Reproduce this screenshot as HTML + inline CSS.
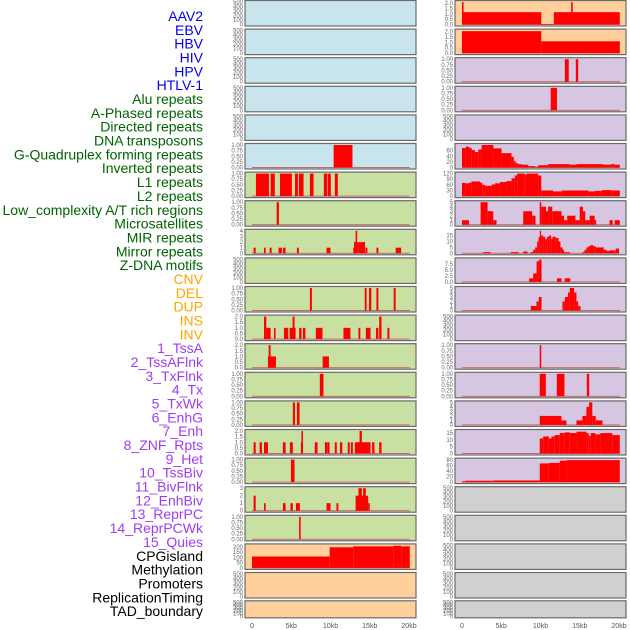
<!DOCTYPE html>
<html><head><meta charset="utf-8"><style>
html,body{margin:0;padding:0;background:#fff;}
svg{display:block;font-family:"Liberation Sans",sans-serif;}
</style></head><body>
<svg id="chart" width="630" height="630" viewBox="0 0 630 630" xmlns="http://www.w3.org/2000/svg">
<g id="labels"></g>
<g id="panels"></g>
<g id="xaxis"></g>
</svg>
<script>
const trackLabels = ["AAV2","EBV","HBV","HIV","HPV","HTLV-1","Alu repeats","A-Phased repeats","Directed repeats","DNA transposons","G-Quadruplex forming repeats","Inverted repeats","L1 repeats","L2 repeats","Low_complexity A/T rich regions","Microsatellites","MIR repeats","Mirror repeats","Z-DNA motifs","CNV","DEL","DUP","INS","INV","1_TssA","2_TssAFlnk","3_TxFlnk","4_Tx","5_TxWk","6_EnhG","7_Enh","8_ZNF_Rpts","9_Het","10_TssBiv","11_BivFlnk","12_EnhBiv","13_ReprPC","14_ReprPCWk","15_Quies","CPGisland","Methylation","Promoters","ReplicationTiming","TAD_boundary"];
const labelGroupSizes = [6,13,5,15,5];
const labelGroupColors = ["#0000ee","#006400","#ffa500","#a03cf0","#000000"];
const xTickValues = [0,5,10,15,20];
const xTickLabels = ["0","5kb","10kb","15kb","20kb"];
const leftColors = ["#c8e4ec","#c8e4ec","#c8e4ec","#c8e4ec","#c8e4ec","#c8e4ec","#c8e0a2","#c8e0a2","#c8e0a2","#c8e0a2","#c8e0a2","#c8e0a2","#c8e0a2","#c8e0a2","#c8e0a2","#c8e0a2","#c8e0a2","#c8e0a2","#c8e0a2","#ffd09c","#ffd09c","#ffd09c"];
const rightColors = ["#ffd09c","#ffd09c","#d6c6e2","#d6c6e2","#d6c6e2","#d6c6e2","#d6c6e2","#d6c6e2","#d6c6e2","#d6c6e2","#d6c6e2","#d6c6e2","#d6c6e2","#d6c6e2","#d6c6e2","#d6c6e2","#d6c6e2","#d0d0d0","#d0d0d0","#d0d0d0","#d0d0d0","#d0d0d0"];
// y-axis maxima per row
const leftMax = [500,500,500,500,500,1,1,1,4,500,1,2,2,1,1,2,1,3,1,215,500,500];
const rightMax = [2.1,2.1,1,1,500,80,120,5,19,9.3,5,500,1,1,5,16.5,82,500,500,500,500,500];
// tick sets: [values, decimals]
const leftTicks = ["T500","T500","T500","T500","T500","T1","T1","T1","T4","T500","T1","T2","T2","T1","T1","T2","T1","T3","T1","T200","T500","T500"];
const rightTicks = ["T2","T2","T1","T1","T500","T60","T120","T5","T15","T75","T5","T500","T1","T1","T5","T15","T80","T500","T500","T500","T500","T500"];
const tickSets = {
 T500:[[0,100,200,300,400,500],0], T1:[[0,0.25,0.5,0.75,1],2], T2:[[0,0.5,1,1.5,2],1],
 T3:[[0,1,2,3],0], T4:[[0,1,2,3,4],0], T5:[[0,1,2,3,4,5],0], T200:[[0,50,100,150,200],0],
 T60:[[0,20,40,60],0], T120:[[0,30,60,90,120],0], T15:[[0,5,10,15],0], T75:[[0,2.5,5,7.5],1], T80:[[0,20,40,60,80],0]
};
// segments: [startKb, endKb, value]
const leftSegs = [
 [],[],[],[],[],
 [[10.4,12.8,1]],
 [[0.5,2.16,1],[2.37,2.9,1],[3.56,5.08,1],[5.47,5.85,1],[5.97,6.57,1],[7.37,7.84,1],[9.15,9.58,1],[9.66,10.04,1],[10.55,10.93,1]],
 [[3.14,3.43,1]],
 [[0.2,0.47,1],[1.53,1.74,1],[2.25,2.5,1],[3.39,3.81,1],[3.94,4.28,1],[5.72,5.97,1],[9.49,10.0,1],[12.9,13.2,1],[13.0,13.6,2],[13.2,13.4,4],[13.6,14.4,2],[14.45,14.7,1],[15.85,16.1,1],[18.3,19.0,1]],
 [],
 [[7.37,7.63,1],[14.36,14.6,1],[14.9,15.2,1],[15.85,16.1,1],[18.05,18.3,1]],
 [[1.53,1.82,2],[1.82,2.37,1],[2.8,3.0,1],[4.07,4.62,1],[4.79,5.25,1],[5.17,5.42,2],[5.25,5.55,1],[6.0,6.3,1],[6.48,6.8,1],[8.14,8.98,1],[11.65,12.54,1],[13.56,13.8,1],[14.5,15.1,1],[15.8,16.1,1],[16.2,16.5,2],[17.25,17.5,1]],
 [[2.03,3.05,1],[2.12,2.37,2],[9.0,9.8,1]],
 [[8.64,9.1,1]],
 [[5.2,5.47,1],[5.72,6.06,1]],
 [[0.2,0.47,1],[0.97,1.27,1],[1.53,2.03,1],[3.94,4.28,1],[4.83,5.2,1],[6.23,6.5,1],[6.3,6.5,2],[8.0,8.35,1],[9.28,9.58,1],[9.6,9.87,1],[10.55,10.8,1],[11.2,11.5,1],[12.2,12.45,1],[12.6,12.85,1],[13.1,15.1,1],[13.7,14.0,2],[15.3,15.6,1],[16.2,16.5,1]],
 [[4.96,5.42,1]],
 [[0.2,0.47,2],[1.53,1.74,1],[3.94,4.28,1],[4.9,5.2,1],[5.6,6.1,1],[9.5,10.0,1],[10.76,11.0,1],[13.2,14.8,2],[13.56,14.0,3],[14.15,14.5,3],[14.8,15.0,1]],
 [[6.0,6.2,1]],
 [[0,9.9,109],[9.9,12.9,197],[12.9,18,206],[18,19,212],[19,20.1,206]],
 [],[]
];
const rightSegs = [
 [[0,10.1,1.15],[0,0.2,2.1],[10.1,11.7,0.05],[11.7,20.1,1.15],[13.9,14.1,2.1]],
 [[0,10.1,2.05],[10.1,20.1,1.1]],
 [[13.1,13.6,1],[14.5,14.8,1]],
 [[11.3,12.1,1]],
 [],
 [[0,0.47,69],[0.47,0.9,74],[0.9,1.23,70],[1.23,1.65,62],[1.65,2.08,55],[2.08,2.5,64],[2.5,4.0,80],[4.0,5.04,68],[5.04,6.3,51],[6.3,6.6,38],[6.6,6.86,22],[6.86,7.16,15],[7.16,7.58,12],[7.58,8.43,10],[8.43,9.28,5],[9.28,9.7,3],[9.7,10.97,8],[10.97,13.73,12],[13.73,14.58,10],[14.58,17.97,12],[17.97,19.0,10],[19.0,19.45,12],[19.45,20.1,10]],
 [[0,0.47,70],[0.47,0.9,68],[0.9,1.23,72],[1.23,2.29,78],[2.29,2.58,72],[2.58,2.92,60],[2.92,3.77,55],[3.77,4.2,62],[4.2,4.83,68],[4.83,5.68,75],[5.68,6.31,80],[6.31,6.74,95],[6.74,7.03,110],[7.03,8.0,120],[8.0,8.22,115],[8.22,9.7,120],[9.7,10.1,110],[10.1,11.6,30],[11.6,12.7,25],[12.7,16.1,30],[16.1,16.9,25],[16.9,17.8,28],[17.8,19.0,32],[19.0,20.1,30]],
 [[0,0.89,1],[2.37,3.26,5],[3.26,3.98,3],[3.98,4.4,1],[7.8,8.94,3],[8.94,9.36,2],[9.9,10.1,5],[10.1,10.7,4],[10.7,10.97,3],[10.97,11.5,4],[11.5,12.67,3],[12.67,13.0,2],[13.0,13.4,1],[13.4,14.45,2],[14.45,15.0,1],[15.0,15.4,4],[15.4,15.7,3],[15.7,16.27,1],[16.27,16.9,2],[16.9,17.1,1],[18.8,19.2,1],[19.45,20.1,1]],
 [[2.7,3.64,1],[6.23,7.2,1],[7.8,8.35,1.5],[8.77,9.07,1],[9.07,9.32,3],[9.32,9.58,5],[9.58,9.75,10],[9.75,9.92,14],[9.92,10.08,19],[10.08,10.34,15],[10.34,10.6,14],[10.6,10.85,12],[10.85,11.1,14],[11.1,11.36,15],[11.36,11.53,12],[11.53,11.95,14],[11.95,12.29,13],[12.29,12.54,10],[12.54,12.8,5],[12.8,13.0,3],[13.0,13.73,1],[15.34,15.6,1],[15.6,15.85,3],[15.85,16.1,5],[16.1,16.36,6],[16.36,16.7,7],[16.7,17.03,6],[17.03,18.05,5],[18.05,18.4,3],[18.4,18.8,2],[18.8,19.45,2.5],[19.45,19.58,2],[19.58,20.0,4]],
 [[8.56,9.07,1.5],[9.07,9.5,3.5],[9.5,9.79,8.5],[9.79,10.13,9.2],[12.1,12.67,1.5],[13.1,13.8,1.5]],
 [[8.77,9.49,1],[9.49,9.79,2],[9.79,10.13,3],[12.8,13.1,2],[13.1,13.5,3],[13.5,13.73,4],[13.73,14.28,5],[14.28,14.58,4],[14.58,14.8,2],[14.8,15.1,1]],
 [],
 [[9.9,10.1,1]],
 [[9.9,10.68,1],[12.08,13.05,1],[15.9,16.2,1]],
 [[9.9,12.67,2],[12.67,13.3,1],[14.58,15.34,1],[15.34,15.85,2],[15.85,16.19,4],[16.19,16.6,5],[16.6,17.03,2],[17.03,17.9,1]],
 [[9.9,10.34,11],[10.34,11.06,12.5],[11.06,11.4,11],[11.4,11.82,12.5],[11.82,12.46,13.5],[12.46,13.1,15],[13.1,13.73,15.5],[13.73,14.58,15],[14.58,15.85,16],[15.85,16.14,15],[16.14,16.4,13],[16.4,16.99,15],[16.99,17.63,14],[17.63,19.15,15],[19.15,20.1,13.5]],
 [[0,0.47,3],[0.47,4.0,5],[4.0,9.9,6],[9.9,11.06,68],[11.06,12.46,70],[12.46,13.3,78],[13.3,20.1,80]],
 [],[],[],[],[]
];

const NS = "http://www.w3.org/2000/svg";
function mk(tag, attrs, parent){const e=document.createElementNS(NS,tag);for(const k in attrs)e.setAttribute(k,attrs[k]);parent.appendChild(e);return e;}
function rowTop(i){return i===21?600.8:0.5+i*28.6;}
function rowH(i){return i===21?17:25.5;}
function xScale(x0,kb){return x0+7+kb*7.85;}
function yScale(top,h,max,v){return top+h-1.5-(v/max)*(h-3);}

// labels
const lg=document.getElementById('labels');
let idx=0;
labelGroupSizes.forEach((n,g)=>{for(let k=0;k<n;k++){const i=idx++;
 const t=mk('text',{x:203,y:16+i*13.84+5,'text-anchor':'end','font-size':14,fill:labelGroupColors[g]},lg);
 
 
 t.textContent=trackLabels[i];}});

const pg=document.getElementById('panels');
function drawPanel(col,i){
 const x0=col===0?245:455, w=171, top=rowTop(i), h=rowH(i);
 const colors=col===0?leftColors:rightColors, maxes=col===0?leftMax:rightMax;
 const ticks=tickSets[(col===0?leftTicks:rightTicks)[i]], segs=(col===0?leftSegs:rightSegs)[i];
 const g=mk('g',{},pg);
 
 
 mk('rect',{x:x0,y:top,width:w,height:h,fill:colors[i]},g);
 const max=maxes[i];
 if(segs.length){
  const bl=mk('rect',{x:xScale(x0,0),y:top+h-2,width:xScale(x0,20.1)-xScale(x0,0),height:1,fill:'#c86a6a'},g);
  
  
 }
 segs.forEach(s=>{
  const xa=xScale(x0,s[0]), xb=xScale(x0,s[1]), yv=yScale(top,h,max,s[2]), yb=top+h-1.5;
  const r=mk('rect',{x:xa,y:yv,width:Math.max(xb-xa,1.2),height:Math.max(yb-yv,0.5),fill:'#ff0000'},g);
  
  
 });
 mk('rect',{x:x0,y:top,width:w,height:h,fill:'none',stroke:'#6a6a6a','stroke-width':1.2},g);
 ticks[0].forEach(v=>{
  const t=mk('text',{x:x0-2,y:yScale(top,h,max,v)+2,'text-anchor':'end','font-size':6,fill:'#666'},g);
  
  
  t.textContent=v.toFixed(ticks[1]);
 });
}
for(let i=0;i<22;i++){drawPanel(0,i);drawPanel(1,i);}

const xg=document.getElementById('xaxis');
[245,455].forEach(x0=>{xTickValues.forEach((v,j)=>{
 const t=mk('text',{x:xScale(x0,v),y:628,'text-anchor':'middle','font-size':7,fill:'#555'},xg);
 
 
 t.textContent=xTickLabels[j];});});
</script>
</body></html>
